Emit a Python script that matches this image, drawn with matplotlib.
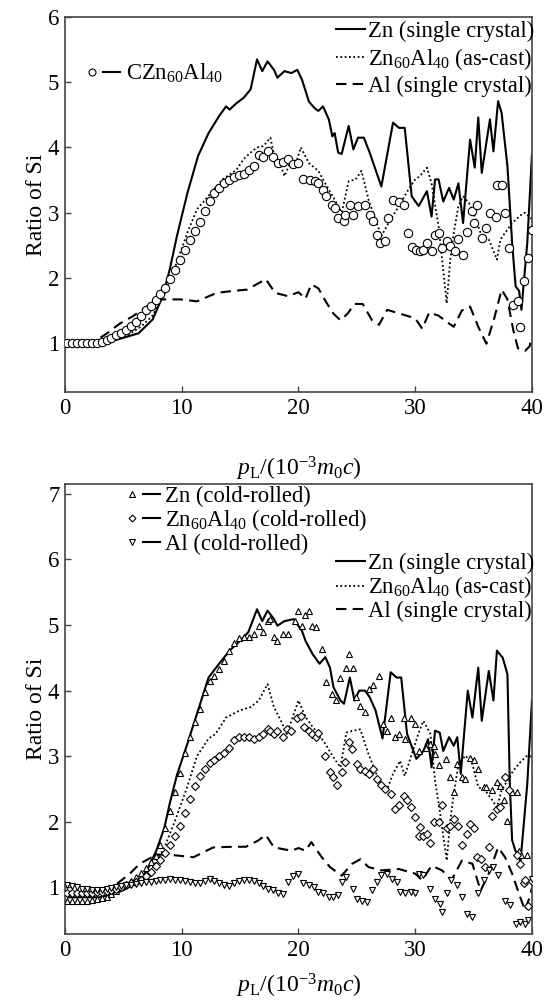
import numpy as np
import matplotlib
matplotlib.use("Agg")
import matplotlib.pyplot as plt
from matplotlib.lines import Line2D
from matplotlib.legend_handler import HandlerTuple

plt.rcParams['font.family'] = 'serif'
plt.rcParams['font.serif'] = ['Liberation Serif', 'DejaVu Serif']
plt.rcParams['mathtext.fontset'] = 'custom'
plt.rcParams['mathtext.rm'] = 'Liberation Serif'
plt.rcParams['mathtext.it'] = 'Liberation Serif:italic'
plt.rcParams['mathtext.bf'] = 'Liberation Serif:bold'

# ---------------- top panel data ----------------
zn_sc_top_x = [0.3, 2, 4.2, 6.3, 7.5, 8.4, 9.0, 9.6, 10.5, 11.4, 12.3, 13.2, 13.8, 14.1, 14.7, 15.3, 15.9,
               16.45, 16.9, 17.35, 17.9, 18.2, 18.8, 19.4, 19.9, 20.3, 20.9, 21.4, 21.7, 22.1, 22.6, 22.9,
               23.1, 23.4, 23.7, 24.3, 24.7, 25.1, 25.6, 26.1, 27.1, 28.1, 28.6, 29.1, 29.7, 30.3, 31.0,
               31.4, 31.7, 32.0, 32.4, 32.9, 33.3, 33.7, 34.1, 34.7, 35.1, 35.4, 35.7, 36.4, 36.7, 37.1,
               37.4, 37.9, 38.3, 38.6, 38.9, 39.1, 39.6, 40.0]
zn_sc_top_y = [1.0, 1.0, 1.04, 1.15, 1.36, 1.73, 2.15, 2.65, 3.31, 3.87, 4.22, 4.48, 4.63, 4.58, 4.68, 4.76, 4.89,
               5.35, 5.17, 5.32, 5.19, 5.07, 5.17, 5.14, 5.19, 5.04, 4.7, 4.6, 4.56, 4.63, 4.43, 4.17,
               4.22, 3.92, 3.9, 4.33, 3.97, 4.15, 4.15, 3.92, 3.40, 4.38, 4.30, 4.30, 3.25, 3.10, 3.33,
               2.94, 3.51, 3.51, 3.17, 3.38, 3.20, 3.45, 2.84, 4.12, 3.69, 4.46, 3.61, 4.43, 3.94, 4.71,
               4.53, 3.71, 2.54, 1.87, 1.80, 1.51, 2.54, 3.89]

znal_ac_top_x = [0.3, 3, 5, 6.5, 7.5, 8.5, 9.5, 10.5, 11.3, 12.3, 13.5, 14.7, 15.3, 15.9, 16.45, 17.0, 17.6,
                 17.9, 18.5, 18.8, 19.3, 19.7, 20.2, 20.9, 21.7, 22.6, 23.1, 23.7, 24.3, 24.9, 25.4, 26.0,
                 26.6, 27.1, 27.7, 28.6, 29.4, 30.0, 30.4, 31.0, 31.4, 32.0, 32.7, 33.0, 33.3, 33.7, 34.1,
                 34.6, 35.1, 35.7, 36.3, 37.0, 37.3, 37.7, 38.3, 39.1, 39.4, 40.0]
znal_ac_top_y = [1.0, 1.01, 1.08, 1.25, 1.42, 1.75, 2.2, 2.7, 3.05, 3.26, 3.51, 3.66, 3.82, 3.92, 4.0, 4.02, 4.15,
                 3.89, 3.71, 3.56, 3.77, 3.71, 4.0, 3.76, 3.64, 3.35, 3.2, 3.0, 3.48, 3.51, 3.64, 3.2,
                 2.89, 2.64, 2.84, 3.1, 3.35, 3.51, 3.56, 3.69, 3.45, 2.79, 1.61, 2.28, 2.69, 3.1, 3.25,
                 3.15, 2.94, 2.64, 2.59, 2.28, 2.59, 2.69, 2.84, 2.97, 3.0, 2.9]

al_sc_top_x = [0.3, 2.5, 3.6, 4.7, 5.8, 7.0, 8.1, 9.9, 11.3, 13.0, 14.4, 15.6, 16.4, 17.2, 18.0, 19.1, 20.0,
               20.6, 21.1, 21.7, 22.4, 23.0, 23.6, 24.2, 24.8, 25.5, 26.3, 26.9, 27.6, 28.9, 30.0, 30.6,
               31.2, 32.0, 32.9, 33.3, 34.0, 34.7, 35.4, 36.1, 36.8, 37.4, 37.9, 38.4, 38.8, 39.4, 39.8, 40.0]
al_sc_top_y = [1.0, 1.02, 1.15, 1.3, 1.41, 1.56, 1.67, 1.67, 1.64, 1.77, 1.8, 1.82, 1.9, 1.98, 1.77, 1.72, 1.78,
               1.68, 1.9, 1.84, 1.62, 1.45, 1.35, 1.45, 1.6, 1.6, 1.35, 1.28, 1.51, 1.44, 1.38, 1.22,
               1.47, 1.42, 1.3, 1.25, 1.5, 1.56, 1.25, 0.99, 1.4, 1.82, 1.67, 1.2, 0.92, 0.88, 0.95, 1.1]

czn_x = [0.2, 0.62, 1.04, 1.46, 1.88, 2.3, 2.72, 3.14, 3.56, 3.98, 4.4, 4.82, 5.24, 5.66, 6.08, 6.5, 6.92,
         7.34, 7.76, 8.18, 8.6, 9.02, 9.44, 9.86, 10.28, 10.7, 11.12, 11.54, 11.96, 12.38, 12.8, 13.22,
         13.64, 14.06, 14.48, 14.9, 15.32, 15.74, 16.16, 16.58, 17.0, 17.42, 17.84, 18.26, 18.68, 19.1,
         19.52, 19.94, 20.4, 21.0, 21.4, 21.7, 22.1, 22.4, 22.9, 23.1, 23.4, 23.9, 24.0, 24.4, 24.7,
         25.1, 25.7, 26.1, 26.4, 26.7, 27.0, 27.4, 27.7, 28.1, 28.6, 29.0, 29.4, 29.7, 30.1, 30.4, 30.7,
         31.0, 31.4, 31.7, 32.0, 32.3, 32.7, 33.0, 33.4, 33.7, 34.1, 34.4, 34.9, 35.0, 35.3, 35.7, 36.1,
         36.4, 36.9, 37.0, 37.4, 37.7, 38.0, 38.4, 38.8, 39.0, 39.3, 39.7, 40.0]
czn_y = [1.0, 1.0, 1.0, 1.0, 1.0, 1.0, 1.0, 1.02, 1.05, 1.08, 1.12, 1.16, 1.2, 1.26, 1.33, 1.41, 1.5,
         1.57, 1.66, 1.75, 1.85, 1.98, 2.12, 2.27, 2.42, 2.58, 2.72, 2.86, 3.02, 3.18, 3.3, 3.38,
         3.45, 3.5, 3.55, 3.58, 3.6, 3.65, 3.72, 3.88, 3.86, 3.95, 3.85, 3.76, 3.78, 3.82,
         3.74, 3.76, 3.51, 3.5, 3.49, 3.46, 3.35, 3.25, 3.11, 3.07, 2.92, 2.87, 2.97, 3.12, 2.97,
         3.1, 3.12, 2.97, 2.87, 2.66, 2.54, 2.56, 2.92, 3.2, 3.17, 3.12, 2.69, 2.48, 2.43, 2.41, 2.43,
         2.54, 2.41, 2.66, 2.69, 2.46, 2.56, 2.49, 2.41, 2.59, 2.35, 2.71, 3.02, 2.84, 3.11, 2.61, 2.76,
         2.99, 2.94, 3.43, 3.43, 2.99, 2.46, 1.59, 1.64, 1.25, 1.95, 2.31, 2.74]

# ---------------- bottom panel data ----------------
zn_sc_bot_x = [0.3, 3.0, 4.5, 6.0, 7.0, 7.8, 8.5, 9.0, 9.6, 10.5, 11.4, 12.3, 13.2, 14.1, 15.0, 15.7, 16.45,
               16.9, 17.35, 17.9, 18.2, 18.8, 19.6, 19.9, 20.3, 20.6, 21.2, 21.8, 22.3, 22.7, 23.0, 23.6,
               23.9, 24.4, 24.8, 25.2, 25.7, 26.1, 26.6, 27.2, 27.9, 28.4, 28.8, 29.3, 30.1, 30.7, 31.1,
               31.4, 31.7, 32.1, 32.4, 32.9, 33.3, 33.6, 33.9, 34.5, 34.9, 35.4, 35.7, 36.3, 36.7, 37.0,
               37.5, 37.9, 38.1, 38.3, 38.6, 38.9, 39.0, 39.6, 40.0]
zn_sc_bot_y = [0.85, 0.85, 0.92, 1.05, 1.25, 1.55, 1.9, 2.3, 2.72, 3.2, 3.7, 4.2, 4.41, 4.61, 4.76, 4.89, 5.24,
               5.06, 5.22, 5.09, 4.99, 5.06, 5.09, 5.01, 4.91, 4.76, 4.56, 4.41, 4.51, 4.35, 4.05, 3.85,
               3.8, 4.2, 3.85, 4.0, 4.0, 3.9, 3.7, 3.27, 4.28, 4.2, 4.2, 3.34, 2.96, 3.08, 3.26,
               2.83, 3.39, 3.36, 3.08, 3.29, 3.16, 3.29, 2.73, 4.0, 3.59, 4.35, 3.54, 4.3, 3.85, 4.61,
               4.5, 4.25, 2.6, 1.72, 1.55, 1.53, 1.36, 2.58, 3.85]

znal_ac_bot_x = [0.3, 3, 5, 6.5, 7.5, 8.5, 9.5, 10.5, 11.3, 12.3, 12.9, 13.8, 15.0, 15.9, 16.6, 17.35, 17.9,
                 18.5, 19.0, 19.4, 20.0, 20.6, 21.2, 21.7, 22.3, 22.9, 23.6, 24.1, 24.7, 25.3, 26.0, 26.9,
                 27.6, 28.1, 28.7, 29.1, 29.7, 30.3, 30.7, 31.3, 31.7, 32.1, 32.7, 33.0, 33.3, 33.7, 34.3,
                 34.9, 35.4, 36.0, 36.6, 37.0, 37.4, 37.9, 38.4, 39.0, 39.6, 40.0]
znal_ac_bot_y = [0.92, 0.93, 1.0, 1.12, 1.3, 1.6, 2.05, 2.55, 3.0, 3.27, 3.34, 3.59, 3.7, 3.75, 3.85, 4.1, 3.75,
                 3.54, 3.34, 3.54, 3.85, 3.6, 3.45, 3.34, 3.19, 3.01, 2.83, 3.36, 3.39, 3.41, 3.03, 2.63,
                 2.50, 2.73, 2.93, 2.7, 3.03, 3.36, 3.54, 3.34, 2.63, 2.17, 1.41, 2.02, 2.42, 2.88, 3.01,
                 2.88, 2.53, 2.48, 2.33, 2.22, 2.48, 2.63, 2.78, 2.91, 3.01, 2.99]

al_sc_bot_x = [0.3, 2.5, 4.4, 5.5, 6.4, 7.85, 8.9, 11.0, 12.7, 14.4, 15.5, 16.5, 17.2, 17.9, 19.4, 20.0, 20.6,
               21.1, 22.0, 22.7, 23.7, 24.6, 25.3, 26.0, 27.1, 28.6, 30.0, 30.6, 31.4, 32.3, 33.1, 34.0,
               34.9, 35.6, 36.3, 37.1, 37.7, 38.3, 38.9, 39.4, 39.8, 40.0]
al_sc_bot_y = [0.92, 0.93, 1.05, 1.2, 1.36, 1.5, 1.5, 1.46, 1.61, 1.62, 1.62, 1.71, 1.8, 1.61, 1.56, 1.6, 1.56,
               1.69, 1.46, 1.31, 1.18, 1.36, 1.43, 1.31, 1.26, 1.28, 1.21, 1.11, 1.33, 1.26, 1.11, 1.41,
               1.36, 0.95, 1.21, 1.61, 1.46, 1.21, 0.9, 0.65, 0.85, 1.0]

zn_cr_x = [0.2, 0.62, 1.04, 1.46, 1.88, 2.3, 2.72, 3.14, 3.56, 3.98, 4.4, 4.82, 5.24, 5.66, 6.08, 6.5, 6.92,
           7.34, 7.76, 8.18, 8.6, 9.02, 9.44, 9.86, 10.28, 10.7, 11.12, 11.54, 11.96, 12.38, 12.8, 13.22,
           13.64, 14.06, 14.48, 14.9, 15.32, 15.74, 16.16, 16.58, 17.0, 17.35, 17.6, 17.9, 18.2, 18.7,
           19.1, 19.7, 20.0, 20.3, 20.6, 20.9, 21.2, 21.5, 22.0, 22.4, 22.9, 23.2, 23.6, 24.1, 24.35,
           24.65, 24.9, 25.3, 25.7, 26.0, 26.4, 26.9, 27.2, 27.6, 27.9, 28.3, 28.6, 29.0, 29.1, 29.6,
           30.0, 30.3, 30.9, 31.3, 31.6, 31.7, 32.0, 32.6, 33.0, 33.3, 33.6, 34.0, 34.3, 34.7, 35.0,
           35.4, 35.9, 36.1, 36.6, 37.0, 37.3, 37.6, 37.9, 38.3, 38.7, 38.9, 39.1, 39.6]
zn_cr_y = [0.8, 0.8, 0.8, 0.8, 0.8, 0.81, 0.82, 0.84, 0.86, 0.9, 0.95, 1.0, 1.05, 1.1, 1.16, 1.22, 1.3,
           1.38, 1.48, 1.64, 1.9, 2.16, 2.45, 2.75, 3.05, 3.3, 3.52, 3.72, 3.98, 4.15, 4.22, 4.33,
           4.45, 4.6, 4.72, 4.8, 4.81, 4.82, 4.86, 4.99, 4.89, 5.06, 5.09, 4.81, 4.76, 4.86,
           4.86, 5.06, 5.22, 4.99, 5.16, 5.22, 4.99, 4.97, 4.63, 4.13, 3.95, 3.85, 4.2, 4.35, 4.56,
           4.35, 3.9, 3.77, 3.67, 4.03, 4.08, 4.23, 3.49, 3.39, 3.59, 3.29, 3.34, 3.59, 3.26, 3.59,
           3.49, 3.08, 3.13, 3.19, 3.16, 3.03, 2.86, 2.96, 2.68, 2.45, 2.88, 2.68, 2.65, 2.98, 2.95,
           2.81, 2.53, 2.53, 2.48, 2.61, 2.55, 2.33, 2.02, 2.45, 2.45, 1.56, 1.49, 1.5]

znal_cr_x = [0.2, 0.62, 1.04, 1.46, 1.88, 2.3, 2.72, 3.14, 3.56, 3.98, 4.4, 4.82, 5.24, 5.66, 6.08, 6.5, 6.92,
             7.34, 7.76, 8.18, 8.6, 9.02, 9.44, 9.86, 10.28, 10.7, 11.12, 11.54, 11.96, 12.38, 12.8, 13.22,
             13.64, 14.06, 14.48, 14.9, 15.32, 15.74, 16.16, 16.58, 17.0, 17.35, 17.6, 17.9, 18.2, 18.7,
             19.0, 19.4, 19.9, 20.2, 20.5, 20.9, 21.2, 21.5, 21.7, 22.3, 22.7, 23.0, 23.3, 23.7, 24.0,
             24.3, 24.6, 25.0, 25.3, 25.7, 26.0, 26.4, 26.7, 27.1, 27.4, 27.9, 28.3, 28.6, 29.0, 29.3,
             29.6, 30.0, 30.3, 30.4, 30.7, 31.0, 31.3, 31.6, 32.0, 32.3, 32.7, 33.0, 33.3, 33.7, 34.0,
             34.4, 34.7, 35.0, 35.3, 35.6, 36.0, 36.3, 36.6, 37.0, 37.3, 37.7, 38.0, 38.7, 39.0, 39.3,
             39.4, 39.7, 40.0]
znal_cr_y = [0.92, 0.92, 0.92, 0.92, 0.92, 0.92, 0.93, 0.93, 0.94, 0.96, 0.98, 1.0, 1.03, 1.06, 1.09, 1.12, 1.17,
             1.24, 1.33, 1.42, 1.53, 1.64, 1.78, 1.94, 2.14, 2.35, 2.55, 2.7, 2.8, 2.9, 2.95, 3.0,
             3.05, 3.12, 3.25, 3.3, 3.29, 3.29, 3.27, 3.3, 3.34, 3.42, 3.39, 3.34, 3.39, 3.29,
             3.42, 3.39, 3.59, 3.62, 3.45, 3.39, 3.34, 3.29, 3.36, 3.01, 2.76, 2.68, 2.56, 2.76, 2.91,
             3.21, 3.11, 2.88, 2.81, 2.78, 2.73, 2.81, 2.66, 2.56, 2.5, 2.43, 2.2, 2.25, 2.4, 2.33,
             2.22, 2.07, 1.79, 1.92, 1.79, 1.82, 1.67, 1.99, 1.99, 2.25, 1.9, 1.94, 2.04, 1.94, 1.64,
             1.82, 1.97, 1.9, 1.46, 1.43, 1.31, 1.61, 2.09, 2.2, 2.22, 2.68, 2.48, 1.49, 1.36, 1.06,
             1.11, 0.71, 1.1]

al_cr_x = [0.2, 0.62, 1.04, 1.46, 1.88, 2.3, 2.72, 3.14, 3.56, 3.98, 4.4, 4.82, 5.24, 5.66, 6.08, 6.5, 6.92,
           7.34, 7.76, 8.18, 8.6, 9.02, 9.44, 9.86, 10.28, 10.7, 11.12, 11.54, 11.96, 12.38, 12.8, 13.22,
           13.64, 14.06, 14.48, 14.9, 15.32, 15.74, 16.16, 16.58, 17.0, 17.42, 17.84, 18.26, 18.68, 19.1,
           19.52, 19.94, 20.4, 20.9, 21.3, 21.7, 22.1, 22.6, 23.0, 23.4, 23.7, 24.1, 24.7, 25.0, 25.4,
           25.9, 26.3, 26.7, 27.1, 27.6, 28.0, 28.4, 28.7, 29.1, 29.6, 30.0, 30.3, 30.7, 31.3, 31.7,
           32.1, 32.3, 32.7, 33.1, 33.6, 34.0, 34.4, 34.9, 35.4, 35.9, 36.3, 36.7, 37.1, 37.7, 38.1,
           38.6, 39.0, 39.4, 39.7, 40.0]
al_cr_y = [1.04, 1.02, 1.0, 0.98, 0.97, 0.96, 0.96, 0.96, 0.97, 0.99, 1.0, 1.02, 1.03, 1.04, 1.05, 1.06, 1.08,
           1.09, 1.1, 1.11, 1.12, 1.13, 1.12, 1.12, 1.1, 1.08, 1.07, 1.06, 1.1, 1.13, 1.1, 1.07,
           1.04, 1.02, 1.06, 1.1, 1.12, 1.11, 1.1, 1.07, 1.02, 0.98, 0.96, 0.92, 0.9, 1.08,
           1.17, 1.2, 1.06, 1.03, 1.01, 0.93, 0.91, 0.86, 0.86, 0.88, 1.08, 1.16, 0.98, 0.83, 0.8,
           0.78, 0.96, 1.08, 1.19, 1.21, 1.13, 1.08, 0.93, 0.91, 0.93, 0.91, 1.21, 1.19, 0.98, 0.83,
           0.75, 0.62, 0.91, 1.11, 1.03, 0.86, 0.6, 0.55, 0.91, 1.11, 1.26, 1.31, 1.19, 0.8, 0.73,
           0.45, 0.48, 0.45, 0.5, 1.13]

lab_zn_sc = 'Zn (single crystal)'
lab_znal_ac = r'Zn$_{60}$Al$_{40}$ (as-cast)'
lab_al_sc = 'Al (single crystal)'
lab_czn = r'CZn$_{60}$Al$_{40}$'
lab_zn_cr = 'Zn (cold-rolled)'
lab_znal_cr = r'Zn$_{60}$Al$_{40}$ (cold-rolled)'
lab_al_cr = 'Al (cold-rolled)'

# ---------------- styling ----------------
TFS = 16.5   # tick labels
AFS = 17     # axis labels
LFS = 16.3   # legends
LW = 1.5
solid = dict(color='black', lw=LW, ls='-')
dotted = dict(color='black', lw=1.3, ls=(0, (1, 1.4)))
dashed = dict(color='black', lw=LW, ls=(0, (5, 3)))
mk_common = dict(ls='none', mfc='white', mec='black', mew=0.8, zorder=3)

fig = plt.figure(figsize=(5.47, 10.0), dpi=100)
ax1 = fig.add_axes([0.1188, 0.608, 0.8537, 0.375])
ax2 = fig.add_axes([0.1188, 0.066, 0.8537, 0.450])


def style_axes(ax, ylim, yticks, xpad):
    ax.set_xlim(0, 40)
    ax.set_ylim(*ylim)
    ax.set_xticks([0, 10, 20, 30, 40])
    ax.set_yticks(yticks)
    ax.tick_params(direction='in', length=4, width=1, labelsize=TFS, top=False, right=False,
                   color='#444444', pad=4)
    for s in ax.spines.values():
        s.set_color('#444444')
        s.set_linewidth(1.2)
    ax.set_ylabel('Ratio of Si', fontsize=AFS, labelpad=1)
    ax.set_xlabel(r'$p_{\mathrm{L}}/(10^{-3}m_0c)$', fontsize=AFS, labelpad=xpad)


# top
l1, = ax1.plot(zn_sc_top_x, zn_sc_top_y, **solid)
l2, = ax1.plot(znal_ac_top_x, znal_ac_top_y, **dotted)
l3, = ax1.plot(al_sc_top_x, al_sc_top_y, **dashed)
ax1.plot(czn_x, czn_y, marker='o', ms=6, **mk_common)
style_axes(ax1, (0.25, 6.0), [1, 2, 3, 4, 5, 6], 26)

leg1 = ax1.legend([l1, l2, l3], [lab_zn_sc, lab_znal_ac, lab_al_sc], loc='upper right',
                  bbox_to_anchor=(1.005, 0.99), frameon=False, fontsize=LFS, handlelength=1.25,
                  handletextpad=0.15, labelspacing=0.18, borderpad=0.0, borderaxespad=0)
ax1.add_artist(leg1)
h_circ = (Line2D([], [], marker='o', ms=5, **mk_common), Line2D([], [], **solid))
ax1.legend([h_circ], [lab_czn], handler_map={tuple: HandlerTuple(ndivide=None, pad=0.1)},
           loc='center left', bbox_to_anchor=(0.04, 0.85), frameon=False, fontsize=LFS,
           handlelength=1.6, handletextpad=0.25, borderpad=0, borderaxespad=0)

# bottom
b1, = ax2.plot(zn_sc_bot_x, zn_sc_bot_y, **solid)
b2, = ax2.plot(znal_ac_bot_x, znal_ac_bot_y, **dotted)
b3, = ax2.plot(al_sc_bot_x, al_sc_bot_y, **dashed)
ax2.plot(zn_cr_x, zn_cr_y, marker='^', ms=5, **mk_common)
ax2.plot(znal_cr_x, znal_cr_y, marker='D', ms=3.8, **mk_common)
ax2.plot(al_cr_x, al_cr_y, marker='v', ms=5, **mk_common)
style_axes(ax2, (0.29, 7.15), [1, 2, 3, 4, 5, 6, 7], 8)

leg2 = ax2.legend([b1, b2, b3], [lab_zn_sc, lab_znal_ac, lab_al_sc], loc='center right',
                  bbox_to_anchor=(1.005, 0.77), frameon=False, fontsize=LFS, handlelength=1.25,
                  handletextpad=0.15, labelspacing=0.02, borderpad=0.0, borderaxespad=0)
ax2.add_artist(leg2)
h_tu = (Line2D([], [], marker='^', ms=4.5, **mk_common), Line2D([], [], **solid))
h_di = (Line2D([], [], marker='D', ms=3.5, **mk_common), Line2D([], [], **solid))
h_td = (Line2D([], [], marker='v', ms=4.5, **mk_common), Line2D([], [], **solid))
ax2.legend([h_tu, h_di, h_td], [lab_zn_cr, lab_znal_cr, lab_al_cr],
           handler_map={tuple: HandlerTuple(ndivide=None, pad=0.1)},
           loc='center left', bbox_to_anchor=(0.125, 0.92), frameon=False, fontsize=LFS,
           handlelength=1.6, handletextpad=0.25, labelspacing=0.02, borderpad=0, borderaxespad=0)

fig.savefig('out.png', dpi=100)
